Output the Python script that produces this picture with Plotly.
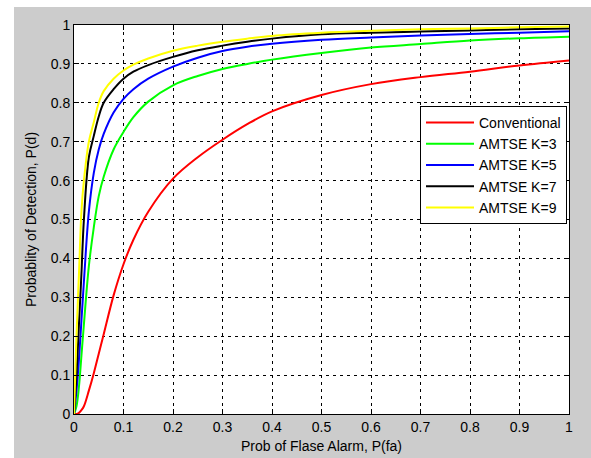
import plotly.graph_objects as go

# ---- data ----
pfa = [0, 0.005, 0.01, 0.015, 0.02, 0.03, 0.04, 0.05, 0.06, 0.08, 0.1, 0.12, 0.15,
       0.2, 0.25, 0.3, 0.35, 0.4, 0.5, 0.6, 0.7, 0.8, 0.9, 1.0]

pd_conventional = [0, 0.0, 0.003, 0.01, 0.02, 0.06, 0.105, 0.155, 0.205, 0.305, 0.385, 0.448, 0.52,
                   0.605, 0.66, 0.705, 0.745, 0.778, 0.82, 0.848, 0.866, 0.88, 0.896, 0.909]
pd_k3 = [0, 0.02, 0.07, 0.15, 0.23, 0.38, 0.48, 0.56, 0.61, 0.68, 0.725, 0.763, 0.803,
         0.845, 0.869, 0.887, 0.9, 0.911, 0.928, 0.942, 0.951, 0.96, 0.966, 0.97]
pd_k5 = [0, 0.06, 0.14, 0.24, 0.34, 0.52, 0.62, 0.68, 0.72, 0.775, 0.81, 0.835, 0.862,
         0.893, 0.916, 0.933, 0.944, 0.952, 0.962, 0.968, 0.973, 0.977, 0.98, 0.984]
pd_k7 = [0, 0.1, 0.23, 0.36, 0.5, 0.66, 0.715, 0.765, 0.8, 0.835, 0.862, 0.88, 0.897,
         0.918, 0.935, 0.947, 0.957, 0.965, 0.976, 0.98, 0.983, 0.986, 0.989, 0.991]
pd_k9 = [0, 0.2, 0.36, 0.52, 0.6, 0.7, 0.75, 0.8, 0.83, 0.862, 0.883, 0.898, 0.914,
         0.934, 0.947, 0.957, 0.965, 0.972, 0.98, 0.985, 0.989, 0.991, 0.994, 0.996]

series_names = ["Conventional", "AMTSE K=3", "AMTSE K=5", "AMTSE K=7", "AMTSE K=9"]
series_values = [pd_conventional, pd_k3, pd_k5, pd_k7, pd_k9]
series_colors = ["#ff0000", "#00ff00", "#0000ff", "#000000", "#ffff00"]

tick_vals = [i / 10 for i in range(11)]
tick_text = ["0", "0.1", "0.2", "0.3", "0.4", "0.5", "0.6", "0.7", "0.8", "0.9", "1"]

x_title = "Prob of Flase Alarm, P(fa)"
y_title = "Probablity of Detection, P(d)"

# ---- figure ----
W, H = 591, 458
L, R, T, B = 74, 22, 25, 44
pw, ph = W - L - R, H - T - B

fig = go.Figure()
for name, vals, col in zip(series_names, series_values, series_colors):
    fig.add_trace(go.Scatter(x=pfa, y=vals, mode="lines", name=name,
                             line=dict(color=col, width=2, shape="spline", smoothing=1.0)))

FONT = "Liberation Sans, Arial, sans-serif"
axis_common = dict(
    range=[0, 1], tickvals=tick_vals, ticktext=tick_text,
    showgrid=True, gridcolor="#000000", gridwidth=1, griddash="3px,4px",
    showline=True, linecolor="#000000", linewidth=1, mirror="ticks",
    ticks="inside", ticklen=5, tickcolor="#000000",
    zeroline=False, automargin=False,
    tickfont=dict(family=FONT, size=14, color="#000000"),
)
fig.update_xaxes(**axis_common,
                 title=dict(text=x_title, font=dict(family=FONT, size=14, color="#000000"), standoff=7))
fig.update_yaxes(**axis_common,
                 title=dict(text=y_title, font=dict(family=FONT, size=14, color="#000000"), standoff=10))

# white strips left/top of the grey figure area
def px_x(p):
    return (p - L) / pw

def px_y(p):
    return (H - B - p) / ph

fig.add_shape(type="rect", xref="paper", yref="paper",
              x0=px_x(-5), x1=px_x(14), y0=px_y(H + 5), y1=px_y(-5),
              fillcolor="#ffffff", line=dict(width=0), layer="above")
fig.add_shape(type="rect", xref="paper", yref="paper",
              x0=px_x(-5), x1=px_x(W + 5), y0=px_y(7), y1=px_y(-5),
              fillcolor="#ffffff", line=dict(width=0), layer="above")

fig.update_layout(
    width=W, height=H,
    margin=dict(l=L, r=R, t=T, b=B),
    paper_bgcolor="#cccccc", plot_bgcolor="#ffffff",
    font=dict(family=FONT, size=14, color="#000000"),
    showlegend=True,
    legend=dict(x=px_x(420), y=px_y(106), xanchor="left", yanchor="top",
                bgcolor="#ffffff", bordercolor="#000000", borderwidth=1,
                font=dict(family=FONT, size=14, color="#000000"),
                tracegroupgap=0, itemwidth=48),
)

fig.write_html("out.html")
